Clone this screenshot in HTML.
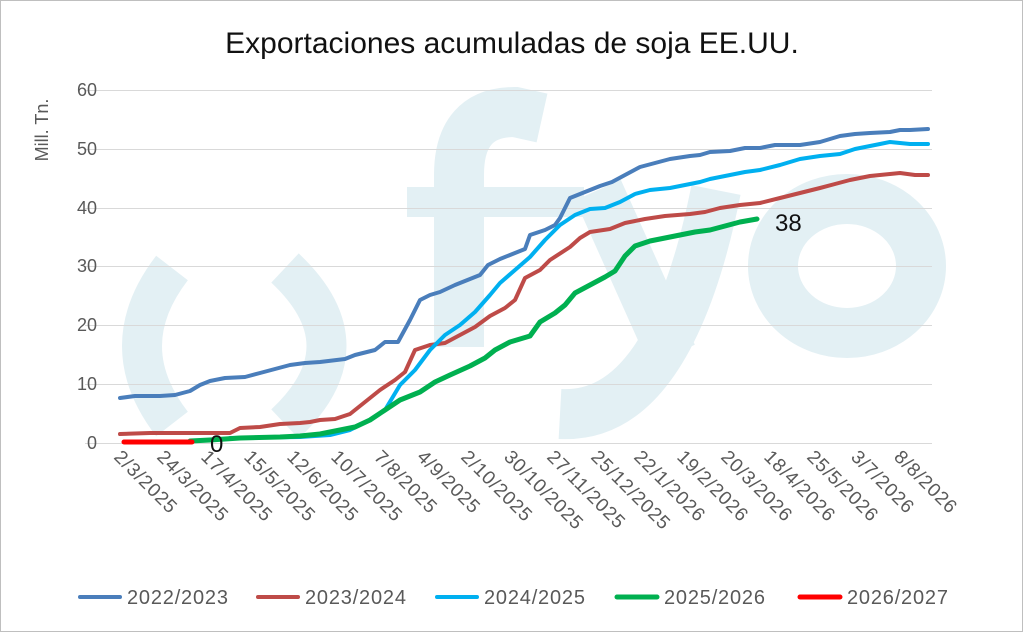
<!DOCTYPE html>
<html><head><meta charset="utf-8"><style>
body{margin:0;background:#fff}
svg{display:block}
text{font-family:"Liberation Sans",sans-serif}
</style></head><body>
<svg width="1024" height="633" viewBox="0 0 1024 633">
<rect x="0.5" y="0.5" width="1022" height="631" fill="#fff" stroke="#bfbfbf"/>
<g fill="none" stroke="#e3f0f4" stroke-width="46">
<path d="M172,268 Q112,346 172,424" stroke-width="40"/>
<path d="M285,268 Q368,346 285,424" stroke-width="40"/>
<path d="M459,347 L459,175 Q459,112 515,112 L542,118" stroke-width="50"/>
<line x1="598" y1="190" x2="672" y2="355" stroke-width="50"/>
<path d="M716,190 Q670,420 560,414" stroke-width="50"/>
<ellipse cx="847" cy="266" rx="74" ry="67" stroke-width="50"/>
</g>
<rect x="407" y="187" width="177" height="30" fill="#e3f0f4"/>
<text x="512" y="53" font-size="30" text-anchor="middle" fill="#111">Exportaciones acumuladas de soja EE.UU.</text>
<g stroke="#d9d9d9" stroke-width="1">
<line x1="85" y1="90.5" x2="932" y2="90.5"/><line x1="85" y1="149.5" x2="932" y2="149.5"/>
<line x1="85" y1="208.5" x2="932" y2="208.5"/><line x1="85" y1="266.5" x2="932" y2="266.5"/>
<line x1="85" y1="325.5" x2="932" y2="325.5"/><line x1="85" y1="384.5" x2="932" y2="384.5"/>
<line x1="85" y1="443.5" x2="932" y2="443.5"/>
</g>
<g font-size="18" fill="#595959" text-anchor="end">
<text x="97" y="96">60</text><text x="97" y="155">50</text><text x="97" y="214">40</text>
<text x="97" y="272">30</text><text x="97" y="331">20</text><text x="97" y="390">10</text><text x="97" y="449">0</text>
</g>
<text transform="translate(48,130) rotate(-90)" font-size="18" fill="#595959" text-anchor="middle">Mill. Tn.</text>
<g font-size="19" fill="#595959" letter-spacing="0.8">
<text transform="translate(113,458) rotate(45)">2/3/2025</text>
<text transform="translate(156,458) rotate(45)">24/3/2025</text>
<text transform="translate(200,458) rotate(45)">17/4/2025</text>
<text transform="translate(243,458) rotate(45)">15/5/2025</text>
<text transform="translate(286,458) rotate(45)">12/6/2025</text>
<text transform="translate(330,458) rotate(45)">10/7/2025</text>
<text transform="translate(373,458) rotate(45)">7/8/2025</text>
<text transform="translate(416,458) rotate(45)">4/9/2025</text>
<text transform="translate(460,458) rotate(45)">2/10/2025</text>
<text transform="translate(503,458) rotate(45)">30/10/2025</text>
<text transform="translate(546,458) rotate(45)">27/11/2025</text>
<text transform="translate(590,458) rotate(45)">25/12/2025</text>
<text transform="translate(633,458) rotate(45)">22/1/2026</text>
<text transform="translate(676,458) rotate(45)">19/2/2026</text>
<text transform="translate(720,458) rotate(45)">20/3/2026</text>
<text transform="translate(763,458) rotate(45)">18/4/2026</text>
<text transform="translate(806,458) rotate(45)">25/5/2026</text>
<text transform="translate(850,458) rotate(45)">3/7/2026</text>
<text transform="translate(893,458) rotate(45)">8/8/2026</text>
</g>
<g fill="none" stroke-width="4" stroke-linejoin="round" stroke-linecap="round">
<polyline stroke="#4a7ebb" points="120,398 135,396 160,396 175,395 190,391 200,385 210,381 225,378 245,377 260,373 275,369 290,365 305,363 320,362 345,359 355,355 375,350 385,342 398,342 410,320 420,300 430,295 440,292 455,285 470,279 480,275 488,265 500,259 515,253 525,249 530,235 545,230 555,225 560,218 570,198 585,192 600,186 612,182 625,175 640,167 655,163 670,159 690,156 700,155 710,152 730,151 745,148 760,148 775,145 800,145 820,142 830,139 840,136 855,134 870,133 890,132 900,130 910,130 928,129"/>
<polyline stroke="#be4b48" points="120,434 150,433 200,433 230,433 240,428 260,427 280,424 300,423 310,422 320,420 335,419 350,414 360,406 370,398 380,390 395,380 405,372 415,350 430,345 445,343 460,335 475,327 490,316 505,308 515,300 525,278 540,270 550,260 570,247 580,238 590,232 610,229 625,223 645,219 665,216 690,214 705,212 720,208 740,205 760,203 780,198 800,193 820,188 835,184 850,180 870,176 890,174 900,173 915,175 928,175"/>
<polyline stroke="#00b0f0" points="230,438 300,437 330,435 350,430 370,420 385,410 400,385 415,370 430,350 445,335 460,325 475,312 490,295 500,283 515,270 530,257 545,240 560,225 575,215 590,209 605,208 620,202 635,194 650,190 670,188 690,184 700,182 710,179 730,175 745,172 760,170 780,165 800,159 820,156 840,154 855,149 870,146 880,144 890,142 900,143 910,144 928,144"/>
<polyline stroke="#00b050" stroke-width="5" points="190,441 210,440 240,438 280,437 300,436 320,434 340,430 355,427 370,420 385,410 400,400 420,392 435,382 450,375 470,366 485,358 495,350 510,342 530,336 540,322 555,313 565,305 575,293 590,285 605,277 615,271 625,256 635,246 650,241 665,238 680,235 695,232 710,230 725,226 740,222 757,219"/>
<polyline stroke="#ff0000" stroke-width="5" points="124,442 192,442"/>
</g>
<text x="775" y="231" font-size="24" fill="#111">38</text>
<text x="210" y="452" font-size="24" fill="#111">0</text>
<g font-size="20" fill="#595959" stroke-width="4" stroke-linecap="round" letter-spacing="0.8">
<line x1="80" y1="597" x2="120" y2="597" stroke="#4a7ebb"/><text x="127" y="604">2022/2023</text>
<line x1="258" y1="597" x2="298" y2="597" stroke="#be4b48"/><text x="305" y="604">2023/2024</text>
<line x1="437" y1="597" x2="477" y2="597" stroke="#00b0f0"/><text x="484" y="604">2024/2025</text>
<line x1="617" y1="597" x2="657" y2="597" stroke="#00b050" stroke-width="5"/><text x="664" y="604">2025/2026</text>
<line x1="800" y1="597" x2="840" y2="597" stroke="#ff0000" stroke-width="5"/><text x="847" y="604">2026/2027</text>
</g>
</svg>
</body></html>
